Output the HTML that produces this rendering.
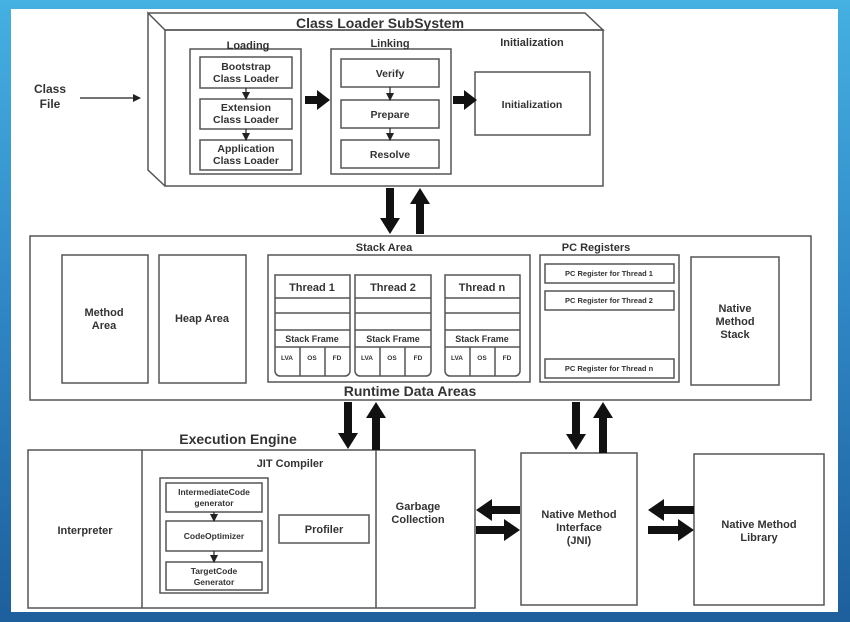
<!DOCTYPE html>
<html><head><meta charset="utf-8"><style>
html,body{margin:0;padding:0;width:850px;height:622px;overflow:hidden}
body{background:linear-gradient(180deg,#45b0e2 0%,#2f86c4 50%,#1d5f9c 100%)}
svg{position:absolute;left:0;top:0}
text{font-family:"Liberation Sans",Arial,sans-serif;fill:#333;text-anchor:middle;font-weight:bold}
</style></head><body>
<svg width="850" height="622" viewBox="0 0 850 622">
<defs>
<marker id="a" markerWidth="8" markerHeight="8" refX="7" refY="4" orient="auto" markerUnits="userSpaceOnUse"><path d="M0,0 L8,4 L0,8 z" fill="#222"/></marker>
</defs>
<rect x="11" y="9" width="827" height="603" fill="#fff"/>
<g fill="none" stroke="#555" stroke-width="1.5">
<path d="M148,13 L585,13 L603,30 L165,30 L148,13 L148,170 L165,186"/>
<rect x="165" y="30" width="438" height="156"/>
<rect x="190" y="49" width="111" height="125"/>
<rect x="200" y="57" width="92" height="31"/>
<rect x="200" y="99" width="92" height="30"/>
<rect x="200" y="140" width="92" height="30"/>
<rect x="331" y="49" width="120" height="125"/>
<rect x="341" y="59" width="98" height="28"/>
<rect x="341" y="100" width="98" height="28"/>
<rect x="341" y="140" width="98" height="28"/>
<rect x="475" y="72" width="115" height="63"/>
<rect x="30" y="236" width="781" height="164"/>
<rect x="62" y="255" width="86" height="128"/>
<rect x="159" y="255" width="87" height="128"/>
<rect x="268" y="255" width="262" height="127"/>
<rect x="540" y="255" width="139" height="127"/>
<rect x="545" y="264" width="129" height="19"/>
<rect x="545" y="291" width="129" height="19"/>
<rect x="545" y="359" width="129" height="19"/>
<rect x="691" y="257" width="88" height="128"/>
<rect x="28" y="450" width="447" height="158"/>
<line x1="142" y1="450" x2="142" y2="608"/>
<line x1="376" y1="450" x2="376" y2="608"/>
<rect x="160" y="478" width="108" height="115"/>
<rect x="166" y="483" width="96" height="29"/>
<rect x="166" y="521" width="96" height="30"/>
<rect x="166" y="562" width="96" height="28"/>
<rect x="279" y="515" width="90" height="28"/>
<rect x="521" y="453" width="116" height="152"/>
<rect x="694" y="454" width="130" height="151"/>
</g>
<g fill="none" stroke="#555" stroke-width="1.5">
<path d="M275,275 h75 v96 a5,5 0 0 1 -5,5 h-65 a5,5 0 0 1 -5,-5 z M275,298 h75 M275,313 h75 M275,330 h75 M275,347 h75 M300,347 v29 M325,347 v29"/>
<path d="M355,275 h76 v96 a5,5 0 0 1 -5,5 h-66 a5,5 0 0 1 -5,-5 z M355,298 h76 M355,313 h76 M355,330 h76 M355,347 h76 M380,347 v29 M405,347 v29"/>
<path d="M445,275 h75 v96 a5,5 0 0 1 -5,5 h-65 a5,5 0 0 1 -5,-5 z M445,298 h75 M445,313 h75 M445,330 h75 M445,347 h75 M470,347 v29 M495,347 v29"/>
</g>
<g stroke="#222" stroke-width="1.2">
<line x1="80" y1="98" x2="140" y2="98" marker-end="url(#a)"/>
<line x1="246" y1="88" x2="246" y2="99" marker-end="url(#a)"/>
<line x1="246" y1="129" x2="246" y2="140" marker-end="url(#a)"/>
<line x1="390" y1="87" x2="390" y2="100" marker-end="url(#a)"/>
<line x1="390" y1="128" x2="390" y2="140" marker-end="url(#a)"/>
<line x1="214" y1="512" x2="214" y2="521" marker-end="url(#a)"/>
<line x1="214" y1="551" x2="214" y2="562" marker-end="url(#a)"/>
</g>
<g fill="#111">
<path d="M305,96 h12 v-6 l13,10 l-13,10 v-6 h-12z"/>
<path d="M453,96 h11 v-6 l13,10 l-13,10 v-6 h-11z"/>
<path d="M386,188 h8 v30 h6 l-10,16 l-10,-16 h6z"/>
<path d="M416,234 h8 v-30 h6 l-10,-16 l-10,16 h6z"/>
<path d="M344,402 h8 v31 h6 l-10,16 l-10,-16 h6z"/>
<path d="M372,450 h8 v-32 h6 l-10,-16 l-10,16 h6z"/>
<path d="M572,402 h8 v32 h6 l-10,16 l-10,-16 h6z"/>
<path d="M599,453 h8 v-35 h6 l-10,-16 l-10,16 h6z"/>
<path d="M520,506 h-28 v-7 l-16,11 l16,11 v-7 h28z"/>
<path d="M476,526 h28 v-7 l16,11 l-16,11 v-7 h-28z"/>
<path d="M694,506 h-30 v-7 l-16,11 l16,11 v-7 h30z"/>
<path d="M648,526 h30 v-7 l16,11 l-16,11 v-7 h-30z"/>
</g>
<text x="380" y="28" font-size="14" fill="#222">Class Loader SubSystem</text>
<text x="248" y="49" font-size="11">Loading</text>
<text x="390" y="47" font-size="11">Linking</text>
<text x="532" y="46" font-size="11">Initialization</text>
<text x="50" y="93" font-size="12">Class</text>
<text x="50" y="108" font-size="12">File</text>
<g font-size="10.5">
<text x="246" y="70">Bootstrap</text><text x="246" y="82">Class Loader</text>
<text x="246" y="111">Extension</text><text x="246" y="123">Class Loader</text>
<text x="246" y="152">Application</text><text x="246" y="164">Class Loader</text>
<text x="390" y="77">Verify</text>
<text x="390" y="118">Prepare</text>
<text x="390" y="158">Resolve</text>
<text x="532" y="108">Initialization</text>
</g>
<g font-size="11">
<text x="384" y="251">Stack Area</text>
<text x="596" y="251">PC Registers</text>
<text x="104" y="316">Method</text><text x="104" y="329">Area</text>
<text x="202" y="322">Heap Area</text>
<text x="735" y="312">Native</text><text x="735" y="325">Method</text><text x="735" y="338">Stack</text>
<text x="312" y="291">Thread 1</text>
<text x="393" y="291">Thread 2</text>
<text x="482" y="291">Thread n</text>
</g>
<g font-size="9">
<text x="312" y="342">Stack Frame</text><text x="393" y="342">Stack Frame</text><text x="482" y="342">Stack Frame</text>
</g>
<g font-size="6.5">
<text x="287" y="360">LVA</text><text x="312" y="360">OS</text><text x="337" y="360">FD</text>
<text x="367" y="360">LVA</text><text x="392" y="360">OS</text><text x="418" y="360">FD</text>
<text x="457" y="360">LVA</text><text x="482" y="360">OS</text><text x="507" y="360">FD</text>
<text x="609" y="276" font-size="7.5">PC Register for Thread 1</text>
<text x="609" y="303" font-size="7.5">PC Register for Thread 2</text>
<text x="609" y="371" font-size="7.5">PC Register for Thread n</text>
</g>
<text x="410" y="396" font-size="14" fill="#222">Runtime Data Areas</text>
<text x="238" y="444" font-size="14" fill="#222">Execution Engine</text>
<g font-size="11">
<text x="290" y="467">JIT Compiler</text>
<text x="85" y="534">Interpreter</text>
<text x="418" y="510">Garbage</text><text x="418" y="523">Collection</text>
<text x="324" y="533">Profiler</text>
<text x="579" y="518">Native Method</text><text x="579" y="531">Interface</text><text x="579" y="544">(JNI)</text>
<text x="759" y="528">Native Method</text><text x="759" y="541">Library</text>
</g>
<g font-size="8.5" font-weight="normal">
<text x="214" y="495">IntermediateCode</text><text x="214" y="506">generator</text>
<text x="214" y="539">CodeOptimizer</text>
<text x="214" y="574">TargetCode</text><text x="214" y="585">Generator</text>
</g>
</svg>
</body></html>
